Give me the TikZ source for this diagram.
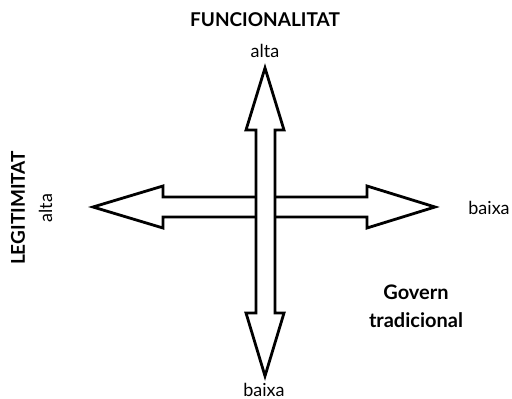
\documentclass[tikz,border=0pt]{standalone}
\usepackage{fontspec}
\setmainfont{Lato}
\usetikzlibrary{positioning}

\begin{document}
\begin{tikzpicture}[x=0.5pt, y=-0.5pt,
  bigarrow/.style = {draw=black, line width=1.4pt, fill=white, line join=miter},
  axis/.style = {font=\bfseries\fontsize{9.5}{12}\selectfont},
  level/.style = {font=\fontsize{9}{11}\selectfont, inner sep=0pt},
  quad/.style = {font=\bfseries\fontsize{10}{14}\selectfont, align=center}
]
\useasboundingbox (0,0) rectangle (512,399);

% Legitimitat arrow
\draw[bigarrow] (93,207) -- (163,186) -- (163,197) -- (367,197) -- (367,186) -- (435,207)
  -- (367,228) -- (367,217) -- (163,217) -- (163,228) -- cycle;
% Funcionalitat arrow
\draw[bigarrow] (265,68) -- (284,130) -- (275,130) -- (275,313) -- (284,313) -- (265,376)
  -- (246,313) -- (256,313) -- (256,130) -- (246,130) -- cycle;

\node[axis, anchor=base] (func) at (265,27) {FUNCIONALITAT};
\node[level, anchor=base] (funcHigh) at (265,58) {alta};
\node[level, anchor=base] (funcLow) at (264,396) {baixa};

\node[axis, rotate=90, anchor=base] (legit) at (25,208) {LEGITIMITAT};
\node[level, rotate=90, anchor=base] (legitHigh) at (52,208) {alta};
\node[level, anchor=base west] (legitLow) at (468,215) {baixa};

\node[quad] (trad) at (416,306) {Govern\\tradicional};
\end{tikzpicture}
\end{document}
